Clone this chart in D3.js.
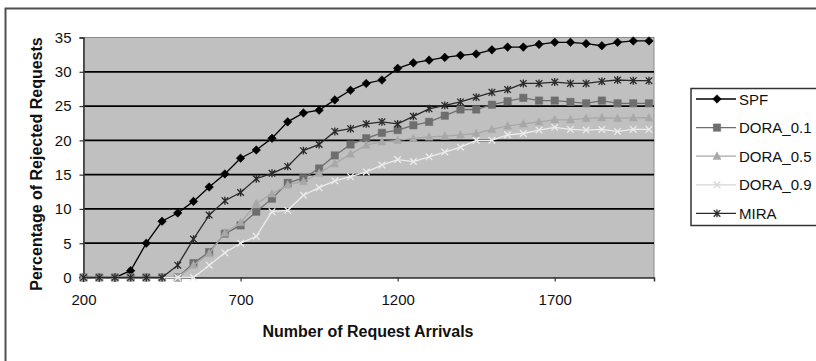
<!DOCTYPE html>
<html>
<head>
<meta charset="utf-8">
<script src="https://cdn.jsdelivr.net/npm/d3@7"></script>
<style>
  body { margin: 0; background: #fff; }
  svg { display: block; font-family: "Liberation Sans", Arial, sans-serif; }
</style>
</head>
<body>
<div class="Canvas"></div>
<script>
// request arrivals (category values)
let arrivals = [200, 250, 300, 350, 400, 450, 500, 550, 600, 650, 700, 750, 800, 850, 900, 950, 1000,
    1050, 1100, 1150, 1200, 1250, 1300, 1350, 1400, 1450, 1500, 1550, 1600, 1650, 1700, 1750, 1800,
    1850, 1900, 1950, 2000];

let spf = [0, 0, 0, 1.0, 5.0, 8.2, 9.4, 11.1, 13.2, 15.1, 17.4, 18.6, 20.3, 22.7, 24.0, 24.4, 25.9,
    27.3, 28.3, 28.8, 30.5, 31.3, 31.7, 32.1, 32.4, 32.6, 33.2, 33.6, 33.6, 34.0, 34.3, 34.3, 34.1,
    33.8, 34.3, 34.5, 34.5];
let dora01 = [0, 0, 0, 0, 0, 0, 0, 2.1, 3.7, 6.4, 7.6, 9.6, 11.5, 13.8, 14.5, 15.9, 17.8,
    19.4, 20.3, 21.1, 21.5, 22.2, 22.7, 23.6, 24.5, 24.5, 25.2, 25.7, 26.2, 25.8, 25.8, 25.6, 25.4,
    25.8, 25.4, 25.4, 25.4];
let dora05 = [0, 0, 0, 0, 0, 0, 0, 1.8, 3.5, 6.5, 8.0, 10.8, 12.2, 13.5, 14.0, 15.2, 16.6,
    18.0, 19.3, 19.8, 20.0, 20.3, 20.5, 20.6, 20.8, 21.0, 21.6, 22.1, 22.4, 22.7, 23.0, 23.0, 23.2,
    23.3, 23.2, 23.3, 23.3];
let dora09 = [0, 0, 0, 0, 0, 0, 0, 0, 1.8, 3.6, 5.0, 6.0, 9.6, 9.8, 12.0, 13.1, 14.1,
    14.7, 15.4, 16.4, 17.2, 16.9, 17.6, 18.3, 19.0, 20.0, 20.0, 20.8, 21.0, 21.5, 21.9, 21.6, 21.5,
    21.6, 21.3, 21.6, 21.6];
let mira = [0, 0, 0, 0, 0, 0, 1.8, 5.6, 9.1, 11.2, 12.4, 14.4, 15.2, 16.2, 18.5, 19.4, 21.3,
    21.7, 22.4, 22.7, 22.4, 23.5, 24.6, 25.1, 25.6, 26.3, 27.0, 27.4, 28.3, 28.3, 28.5, 28.3, 28.3,
    28.6, 28.8, 28.7, 28.7];

let seriesNames = ['SPF', 'DORA_0.1', 'DORA_0.5', 'DORA_0.9', 'MIRA'];
let seriesValues = [spf, dora01, dora05, dora09, mira];
let yTicks = [0, 5, 10, 15, 20, 25, 30, 35];
let xTicks = [200, 700, 1200, 1700];

let width = 816;
let height = 361;
let plot = { left: 83.5, top: 37.5, right: 654, bottom: 277.5 };

let colors = ['#000000', '#6e6e6e', '#a8a8a8', '#ececec', '#2a2a2a'];
let legendColors = ['#000000', '#6e6e6e', '#a8a8a8', '#d6d6d6', '#2a2a2a'];
let shapes = ['diamond', 'square', 'triangle', 'x', 'star'];

let svg = d3.select('.Canvas').append('svg').attr('width', width).attr('height', height);

// outer chart frame (cut off at right and bottom like the picture)
svg.append('rect')
    .attr('x', 5.5).attr('y', 8.5)
    .attr('width', 900).attr('height', 500)
    .attr('fill', '#fff')
    .attr('stroke', '#505050')
    .attr('stroke-width', 2);

let x = d3.scaleLinear().domain([200, 2016]).range([plot.left, plot.right]);
let y = d3.scaleLinear().domain([0, 35]).range([plot.bottom, plot.top]);

// plot background
svg.append('rect')
    .attr('x', plot.left).attr('y', plot.top)
    .attr('width', plot.right - plot.left).attr('height', plot.bottom - plot.top)
    .attr('fill', '#c0c0c0')
    .attr('stroke', '#8a8a8a')
    .attr('stroke-width', 1);

// gridlines
svg.append('g')
    .selectAll('line')
    .data(yTicks.filter((d) => d > 0 && d < 35))
    .enter()
    .append('line')
    .attr('x1', plot.left).attr('x2', plot.right)
    .attr('y1', (d) => y(d)).attr('y2', (d) => y(d))
    .attr('stroke', '#000')
    .attr('stroke-width', 1.8);

// axes
let yAxis = svg.append('g')
    .attr('transform', `translate(${plot.left},0)`)
    .call(d3.axisLeft(y).tickValues(yTicks).tickSize(4).tickPadding(8));
let xAxis = svg.append('g')
    .attr('transform', `translate(0,${plot.bottom})`)
    .call(d3.axisBottom(x).tickValues(xTicks).tickFormat(d3.format('d')).tickSize(4).tickPadding(13));

[yAxis, xAxis].forEach((a) => {
    a.select('.domain').attr('stroke', '#333').attr('stroke-width', 1.5);
    a.selectAll('.tick line').attr('stroke', '#333').attr('stroke-width', 1.2);
    a.selectAll('.tick text').attr('font-size', '15px').attr('fill', '#111')
        .attr('font-family', '"Liberation Sans", Arial, sans-serif');
});

function markerPath(shape, s) {
    if (shape == 'diamond') return `M0,${-s}L${s},0L0,${s}L${-s},0Z`;
    if (shape == 'square') return `M${-s},${-s}H${s}V${s}H${-s}Z`;
    if (shape == 'triangle') return `M0,${-s * 1.1}L${s},${s * 0.8}L${-s},${s * 0.8}Z`;
    if (shape == 'x') return `M${-s},${-s}L${s},${s}M${-s},${s}L${s},${-s}`;
    return `M${-s},${-s}L${s},${s}M${-s},${s}L${s},${-s}M0,${-s * 1.2}V${s * 1.2}`;
}
let markerSize = [4.3, 3.7, 4, 3.3, 3.3];

let line = d3.line()
    .x((d, i) => x(arrivals[i]))
    .y((d) => y(d));

for (let k = 0; k < seriesValues.length; k++) {
    let g = svg.append('g').attr('class', 'series');
    g.append('path')
        .datum(seriesValues[k])
        .attr('d', line)
        .attr('fill', 'none')
        .attr('stroke', colors[k])
        .attr('stroke-width', 1.3);
    let filled = shapes[k] != 'x' && shapes[k] != 'star';
    g.selectAll('path.mark')
        .data(seriesValues[k])
        .enter()
        .append('path')
        .attr('class', 'mark')
        .attr('transform', (d, i) => `translate(${x(arrivals[i])},${y(d)})`)
        .attr('d', markerPath(shapes[k], markerSize[k]))
        .attr('fill', filled ? colors[k] : 'none')
        .attr('stroke', colors[k])
        .attr('stroke-width', filled ? 0.5 : 1.3);
}

// axis titles
svg.append('text')
    .attr('x', 368).attr('y', 337)
    .attr('text-anchor', 'middle')
    .attr('font-size', '16px')
    .attr('font-weight', 'bold')
    .attr('fill', '#111')
    .text('Number of Request Arrivals');
svg.append('text')
    .attr('transform', 'translate(42,164) rotate(-90)')
    .attr('text-anchor', 'middle')
    .attr('font-size', '16px')
    .attr('font-weight', 'bold')
    .attr('fill', '#111')
    .text('Percentage of Rejected Requests');

// legend
let legend = svg.append('g');
legend.append('rect')
    .attr('x', 691).attr('y', 88.5)
    .attr('width', 200).attr('height', 137)
    .attr('fill', '#fff')
    .attr('stroke', '#333')
    .attr('stroke-width', 1.5);
let rows = legend.selectAll('g.row')
    .data(seriesNames)
    .enter()
    .append('g')
    .attr('transform', (d, i) => `translate(0,${99 + i * 28.6})`);
rows.append('line')
    .attr('x1', 696).attr('x2', 736)
    .attr('stroke', (d, i) => legendColors[i])
    .attr('stroke-width', 1.3);
rows.append('path')
    .attr('transform', 'translate(717,0)')
    .attr('d', (d, i) => markerPath(shapes[i], markerSize[i]))
    .attr('fill', (d, i) => (shapes[i] != 'x' && shapes[i] != 'star' ? legendColors[i] : 'none'))
    .attr('stroke', (d, i) => legendColors[i])
    .attr('stroke-width', (d, i) => (shapes[i] != 'x' && shapes[i] != 'star' ? 0.5 : 1.3));
rows.append('text')
    .attr('x', 739).attr('y', 5.5)
    .attr('font-size', '15px')
    .attr('fill', '#111')
    .text((d) => d);
</script>
</body>
</html>
